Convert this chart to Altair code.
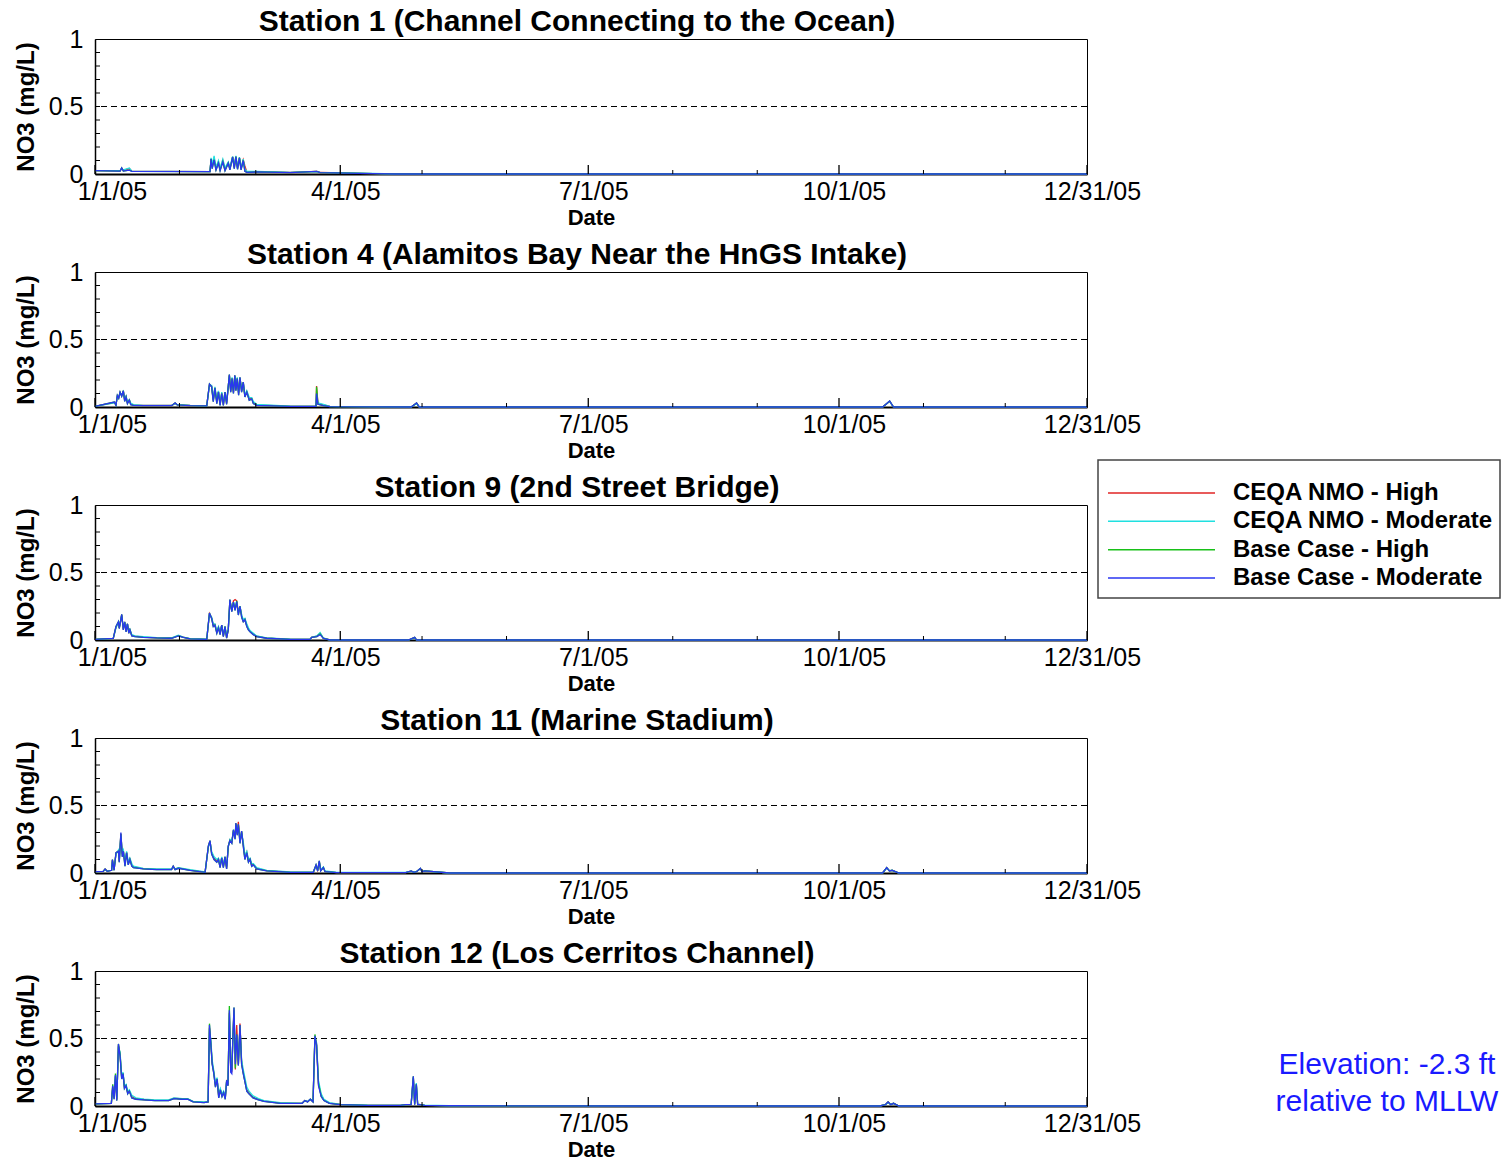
import altair as alt
import pandas as pd

FONT = "Liberation Sans"

SERIES = ["CEQA NMO - High", "CEQA NMO - Moderate", "Base Case - High", "Base Case - Moderate"]
COLORS = ["#e02424", "#20e0e0", "#18c018", "#2a36f0"]

TITLES = [
    "Station 1 (Channel Connecting to the Ocean)",
    "Station 4 (Alamitos Bay Near the HnGS Intake)",
    "Station 9 (2nd Street Bridge)",
    "Station 11 (Marine Stadium)",
    "Station 12 (Los Cerritos Channel)",
]

X_MAJOR_TICKS = ["2005-01-01", "2005-04-01", "2005-07-01", "2005-10-01", "2005-12-31"]
X_MINOR_TICKS = ["2005-02-01", "2005-03-01", "2005-05-01", "2005-06-01",
                 "2005-08-01", "2005-09-01", "2005-11-01", "2005-12-01"]
Y_LABEL_TICKS = [0, 0.5, 1]
Y_MINOR_TICKS = [0.1, 0.2, 0.3, 0.4, 0.5, 0.6, 0.7, 0.8, 0.9]
Y_REF = [0.5]
ELEV_LINES = ["Elevation: -2.3 ft", "relative to MLLW"]

# ---------------- Station 1 (days after 1/1/05, NO3 mg/L) ----------------
S1_DAY = [0, 9.2, 9.8, 10.4, 12.6, 13.5, 42.2, 42.6, 43.0, 43.7,
          44.4, 45.3, 45.9, 46.9, 47.7, 48.9, 49.5, 50.5, 51.1, 51.7,
          52.3, 53.0, 53.6, 54.4, 55.0, 55.7, 59.3, 71.6, 81.4, 82.6,
          102, 110, 364]
S1_BM = [0.025, 0.022, 0.045, 0.022, 0.028, 0.02, 0.017, 0.11, 0.04, 0.105,
         0.03, 0.08, 0.025, 0.09, 0.025, 0.08, 0.03, 0.125, 0.04, 0.128,
         0.035, 0.12, 0.03, 0.10, 0.02, 0.012, 0.015, 0.01, 0.02, 0.01,
         0.003, 0.0, 0.0]
S1_BH = [0.025, 0.022, 0.045, 0.022, 0.028, 0.02, 0.017, 0.11, 0.04, 0.105,
         0.03, 0.08, 0.025, 0.09, 0.025, 0.08, 0.03, 0.125, 0.04, 0.128,
         0.035, 0.12, 0.03, 0.10, 0.02, 0.012, 0.015, 0.01, 0.02, 0.01,
         0.003, 0.0, 0.0]
S1_CM = [0.025, 0.025, 0.04, 0.03, 0.045, 0.022, 0.018, 0.12, 0.07, 0.135,
         0.05, 0.10, 0.045, 0.11, 0.045, 0.09, 0.05, 0.13, 0.06, 0.135,
         0.05, 0.125, 0.045, 0.11, 0.035, 0.02, 0.02, 0.012, 0.018, 0.012,
         0.004, 0.0, 0.0]
S1_CH = [0.025, 0.024, 0.042, 0.026, 0.04, 0.021, 0.018, 0.115, 0.06, 0.12,
         0.04, 0.09, 0.035, 0.10, 0.035, 0.085, 0.04, 0.128, 0.05, 0.13,
         0.045, 0.12, 0.04, 0.105, 0.06, 0.016, 0.018, 0.011, 0.019, 0.011,
         0.003, 0.0, 0.0]

# ---------------- Station 4 ----------------
S4_DAY = [0, 7.1, 7.7, 8.2, 8.7, 9.2, 9.8, 10.4, 10.9, 11.4,
          11.9, 12.6, 13.1, 14.1, 17.7, 28.1, 29.4, 30.2, 34.9, 41.0,
          42.0, 42.8, 43.4, 44.0, 44.7, 45.3, 45.9, 46.5, 47.1, 47.7,
          48.3, 49.3, 49.8, 50.3, 50.8, 51.3, 51.7, 52.2, 52.7, 53.2,
          53.8, 54.4, 55.0, 55.7, 56.6, 57.5, 58.1, 59.3, 71.6, 81.1,
          81.3, 81.8, 83.8, 86.2, 116, 118, 119, 289, 291.6, 293,
          364]
S4_BM = [0.005, 0.037, 0.012, 0.085, 0.065, 0.11, 0.08, 0.12, 0.042, 0.074,
         0.025, 0.05, 0.017, 0.012, 0.01, 0.01, 0.03, 0.015, 0.01, 0.008,
         0.17, 0.15, 0.04, 0.14, 0.025, 0.11, 0.012, 0.10, 0.012, 0.11,
         0.02, 0.24, 0.11, 0.21, 0.10, 0.235, 0.12, 0.21, 0.087, 0.22,
         0.11, 0.185, 0.074, 0.11, 0.05, 0.06, 0.025, 0.012, 0.005, 0.005,
         0.10, 0.02, 0.01, 0.003, 0.0, 0.03, 0.0, 0.0, 0.045, 0.0,
         0.0]
S4_BH = [0.005, 0.037, 0.012, 0.085, 0.065, 0.11, 0.08, 0.12, 0.042, 0.074,
         0.025, 0.05, 0.017, 0.012, 0.01, 0.01, 0.03, 0.015, 0.01, 0.008,
         0.17, 0.15, 0.04, 0.14, 0.025, 0.11, 0.012, 0.10, 0.012, 0.11,
         0.02, 0.24, 0.11, 0.21, 0.10, 0.235, 0.12, 0.21, 0.087, 0.22,
         0.11, 0.185, 0.074, 0.11, 0.05, 0.06, 0.025, 0.012, 0.005, 0.005,
         0.15, 0.02, 0.01, 0.003, 0.0, 0.03, 0.0, 0.0, 0.045, 0.0,
         0.0]
S4_CM = [0.005, 0.03, 0.02, 0.08, 0.075, 0.105, 0.09, 0.115, 0.06, 0.08,
         0.04, 0.055, 0.03, 0.018, 0.012, 0.012, 0.025, 0.018, 0.012, 0.009,
         0.16, 0.16, 0.06, 0.15, 0.05, 0.12, 0.03, 0.11, 0.03, 0.11,
         0.04, 0.23, 0.13, 0.22, 0.12, 0.23, 0.14, 0.22, 0.11, 0.21,
         0.13, 0.18, 0.09, 0.12, 0.07, 0.07, 0.04, 0.02, 0.006, 0.005,
         0.10, 0.03, 0.02, 0.005, 0.0, 0.025, 0.0, 0.0, 0.04, 0.0,
         0.0]
S4_CH = [0.005, 0.033, 0.016, 0.082, 0.07, 0.108, 0.085, 0.118, 0.05, 0.077,
         0.032, 0.052, 0.024, 0.015, 0.011, 0.011, 0.028, 0.016, 0.011, 0.008,
         0.165, 0.155, 0.05, 0.145, 0.04, 0.115, 0.02, 0.105, 0.02, 0.11,
         0.03, 0.235, 0.12, 0.215, 0.11, 0.232, 0.13, 0.215, 0.10, 0.215,
         0.12, 0.183, 0.08, 0.115, 0.06, 0.065, 0.032, 0.016, 0.005, 0.005,
         0.155, 0.025, 0.015, 0.004, 0.0, 0.028, 0.0, 0.0, 0.042, 0.0,
         0.0]

# ---------------- Station 9 ----------------
S9_DAY = [0, 6.7, 7.7, 8.6, 8.9, 9.8, 10.4, 10.9, 11.4, 11.9,
          12.4, 12.8, 13.5, 14.7, 17.7, 22.6, 28.1, 30.6, 32.4, 34.9,
          41.0, 42.0, 42.8, 43.4, 44.0, 44.7, 45.3, 45.9, 46.5, 47.1,
          47.7, 48.3, 48.9, 49.5, 50.2, 50.8, 51.4, 52.0, 52.6, 53.2,
          53.8, 54.4, 55.0, 55.7, 56.3, 56.9, 58.1, 59.3, 63.0, 71.6,
          78.9, 79.5, 81.4, 82.6, 83.8, 86.2, 115, 117.3, 118, 364]
S9_BM = [0.005, 0.012, 0.10, 0.135, 0.085, 0.19, 0.075, 0.135, 0.06, 0.12,
         0.05, 0.075, 0.03, 0.025, 0.02, 0.015, 0.013, 0.03, 0.02, 0.008,
         0.005, 0.20, 0.16, 0.10, 0.11, 0.05, 0.09, 0.04, 0.11, 0.025,
         0.10, 0.013, 0.075, 0.30, 0.21, 0.28, 0.22, 0.285, 0.185, 0.25,
         0.17, 0.135, 0.15, 0.10, 0.075, 0.06, 0.04, 0.025, 0.013, 0.005,
         0.005, 0.02, 0.025, 0.04, 0.012, 0.0, 0.0, 0.02, 0.0, 0.0]
S9_BH = [0.005, 0.012, 0.10, 0.135, 0.085, 0.19, 0.075, 0.135, 0.06, 0.12,
         0.05, 0.075, 0.03, 0.025, 0.02, 0.015, 0.013, 0.03, 0.02, 0.008,
         0.005, 0.20, 0.16, 0.10, 0.11, 0.05, 0.09, 0.04, 0.11, 0.025,
         0.10, 0.013, 0.075, 0.30, 0.21, 0.28, 0.22, 0.29, 0.185, 0.25,
         0.17, 0.135, 0.15, 0.10, 0.075, 0.06, 0.04, 0.025, 0.013, 0.005,
         0.005, 0.02, 0.025, 0.045, 0.012, 0.0, 0.0, 0.02, 0.0, 0.0]
S9_CM = [0.005, 0.012, 0.09, 0.13, 0.10, 0.18, 0.09, 0.13, 0.08, 0.12,
         0.065, 0.08, 0.04, 0.03, 0.025, 0.018, 0.015, 0.035, 0.022, 0.01,
         0.006, 0.19, 0.17, 0.12, 0.12, 0.07, 0.10, 0.06, 0.11, 0.04,
         0.10, 0.03, 0.08, 0.29, 0.22, 0.28, 0.24, 0.28, 0.20, 0.25,
         0.19, 0.15, 0.16, 0.12, 0.09, 0.07, 0.05, 0.03, 0.015, 0.006,
         0.005, 0.02, 0.03, 0.055, 0.015, 0.0, 0.0, 0.015, 0.0, 0.0]
S9_CH = [0.005, 0.012, 0.095, 0.13, 0.09, 0.185, 0.08, 0.13, 0.07, 0.12,
         0.06, 0.078, 0.035, 0.028, 0.022, 0.016, 0.014, 0.032, 0.021, 0.009,
         0.005, 0.195, 0.165, 0.11, 0.115, 0.06, 0.095, 0.05, 0.11, 0.03,
         0.10, 0.02, 0.078, 0.295, 0.215, 0.29, 0.30, 0.29, 0.21, 0.25,
         0.18, 0.14, 0.155, 0.11, 0.08, 0.065, 0.045, 0.028, 0.014, 0.005,
         0.005, 0.02, 0.028, 0.05, 0.013, 0.0, 0.0, 0.018, 0.0, 0.0]

# ---------------- Station 11 ----------------
S11_DAY = [0, 3, 3.7, 4.5, 6.1, 6.4, 7.0, 7.7, 8.6, 8.9,
           9.5, 10.0, 10.4, 11.0, 11.6, 12.2, 12.8, 13.5, 14.1, 17.7,
           22.6, 28.1, 28.7, 29.4, 30.6, 34.9, 40.4, 41.6, 42.2, 42.8,
           43.7, 44.7, 45.3, 45.9, 46.5, 47.1, 47.7, 48.3, 48.9, 49.5,
           50.2, 50.8, 51.4, 51.7, 52.2, 52.6, 53.2, 53.8, 54.4, 55.0,
           55.7, 56.3, 56.9, 57.5, 58.1, 59.3, 63.0, 71.6, 80.1, 81.1,
           81.7, 82.3, 82.8, 83.8, 84.4, 88.7, 114, 116, 117, 118,
           119.4, 120, 121, 130, 289, 290.5, 291.5, 292.5, 295, 364]
S11_BM = [0.01, 0.012, 0.03, 0.012, 0.02, 0.10, 0.02, 0.15, 0.16, 0.08,
          0.30, 0.12, 0.16, 0.05, 0.15, 0.06, 0.10, 0.05, 0.04, 0.03,
          0.025, 0.025, 0.05, 0.025, 0.035, 0.02, 0.005, 0.20, 0.24, 0.14,
          0.10, 0.08, 0.10, 0.04, 0.11, 0.04, 0.12, 0.03, 0.20, 0.24,
          0.22, 0.32, 0.25, 0.37, 0.28, 0.36, 0.22, 0.31, 0.20, 0.10,
          0.15, 0.08, 0.10, 0.05, 0.06, 0.03, 0.015, 0.005, 0.005, 0.06,
          0.015, 0.09, 0.015, 0.04, 0.01, 0.003, 0.003, 0.015, 0.005, 0.01,
          0.035, 0.01, 0.015, 0.0, 0.0, 0.04, 0.015, 0.02, 0.0, 0.0]
S11_BH = [0.01, 0.012, 0.03, 0.012, 0.02, 0.10, 0.02, 0.15, 0.16, 0.08,
          0.29, 0.12, 0.16, 0.05, 0.15, 0.06, 0.10, 0.05, 0.04, 0.03,
          0.025, 0.025, 0.05, 0.025, 0.035, 0.02, 0.005, 0.20, 0.24, 0.14,
          0.10, 0.08, 0.10, 0.04, 0.11, 0.04, 0.12, 0.03, 0.20, 0.24,
          0.22, 0.32, 0.25, 0.37, 0.28, 0.36, 0.22, 0.31, 0.20, 0.10,
          0.15, 0.08, 0.10, 0.05, 0.06, 0.03, 0.015, 0.005, 0.005, 0.06,
          0.015, 0.09, 0.015, 0.04, 0.01, 0.003, 0.003, 0.015, 0.005, 0.01,
          0.035, 0.01, 0.015, 0.0, 0.0, 0.04, 0.015, 0.02, 0.0, 0.0]
S11_CM = [0.01, 0.012, 0.025, 0.015, 0.02, 0.09, 0.03, 0.14, 0.17, 0.10,
          0.28, 0.15, 0.17, 0.08, 0.16, 0.08, 0.11, 0.07, 0.05, 0.035,
          0.03, 0.03, 0.045, 0.03, 0.04, 0.025, 0.008, 0.19, 0.23, 0.16,
          0.12, 0.10, 0.11, 0.06, 0.12, 0.06, 0.12, 0.05, 0.19, 0.25,
          0.24, 0.31, 0.28, 0.36, 0.30, 0.35, 0.25, 0.30, 0.23, 0.13,
          0.16, 0.10, 0.11, 0.07, 0.07, 0.04, 0.02, 0.008, 0.006, 0.05,
          0.025, 0.08, 0.025, 0.045, 0.015, 0.004, 0.004, 0.012, 0.008, 0.012,
          0.03, 0.012, 0.015, 0.0, 0.0, 0.035, 0.018, 0.02, 0.0, 0.0]
S11_CH = [0.01, 0.012, 0.028, 0.014, 0.02, 0.095, 0.025, 0.145, 0.165, 0.09,
          0.29, 0.14, 0.165, 0.07, 0.155, 0.07, 0.105, 0.06, 0.045, 0.032,
          0.028, 0.028, 0.048, 0.028, 0.038, 0.022, 0.006, 0.195, 0.235, 0.15,
          0.11, 0.09, 0.105, 0.05, 0.115, 0.05, 0.12, 0.04, 0.195, 0.245,
          0.23, 0.315, 0.265, 0.365, 0.29, 0.38, 0.235, 0.305, 0.215, 0.115,
          0.155, 0.09, 0.105, 0.06, 0.065, 0.035, 0.018, 0.006, 0.005, 0.055,
          0.02, 0.085, 0.02, 0.042, 0.012, 0.003, 0.003, 0.013, 0.006, 0.011,
          0.032, 0.011, 0.015, 0.0, 0.0, 0.038, 0.016, 0.02, 0.0, 0.0]

# ---------------- Station 12 ----------------
S12_DAY = [0, 6, 6.5, 7, 7.5, 8, 8.6, 9.2, 9.8, 10.3,
           10.8, 11.4, 12, 12.6, 13.5, 15, 18, 22, 27, 29,
           32, 34, 36, 40, 41.5, 42, 42.5, 43, 43.6, 44.2,
           44.8, 45.4, 46, 46.6, 47.2, 47.8, 48.3, 48.8, 49.3, 49.8,
           50.2, 50.5, 51, 51.5, 52, 52.6, 53.2, 53.8, 54.4, 55,
           55.7, 56.5, 58, 60, 62, 68, 76, 77, 78, 79,
           80, 80.7, 81.3, 82, 83, 84, 86, 90, 100, 112,
           114, 116, 116.8, 117.3, 117.9, 118.4, 119, 121, 130, 200,
           288, 290, 291, 292, 293, 295, 364]
S12_BM = [0.015, 0.02, 0.15, 0.05, 0.23, 0.04, 0.46, 0.37, 0.20, 0.24,
          0.13, 0.15, 0.09, 0.11, 0.06, 0.05, 0.045, 0.04, 0.04, 0.055,
          0.05, 0.05, 0.03, 0.025, 0.03, 0.60, 0.46, 0.31, 0.24, 0.14,
          0.20, 0.06, 0.12, 0.07, 0.10, 0.05, 0.19, 0.15, 0.71, 0.25,
          0.24, 0.45, 0.73, 0.31, 0.53, 0.30, 0.60, 0.31, 0.24, 0.18,
          0.11, 0.09, 0.06, 0.045, 0.035, 0.02, 0.02, 0.04, 0.03, 0.05,
          0.03, 0.52, 0.45, 0.15, 0.07, 0.04, 0.02, 0.01, 0.005, 0.005,
          0.01, 0.01, 0.22, 0.01, 0.16, 0.01, 0.01, 0.005, 0.002, 0.0,
          0.0, 0.01, 0.03, 0.01, 0.02, 0.0, 0.0]
S12_BH = [0.015, 0.02, 0.16, 0.05, 0.24, 0.04, 0.46, 0.38, 0.20, 0.24,
          0.13, 0.15, 0.09, 0.11, 0.06, 0.05, 0.045, 0.04, 0.04, 0.055,
          0.05, 0.05, 0.03, 0.025, 0.03, 0.61, 0.46, 0.31, 0.24, 0.14,
          0.20, 0.06, 0.12, 0.07, 0.10, 0.05, 0.19, 0.15, 0.74, 0.26,
          0.27, 0.45, 0.73, 0.28, 0.53, 0.30, 0.60, 0.31, 0.24, 0.18,
          0.11, 0.09, 0.06, 0.045, 0.035, 0.02, 0.02, 0.04, 0.03, 0.05,
          0.03, 0.53, 0.45, 0.17, 0.07, 0.04, 0.02, 0.01, 0.005, 0.005,
          0.01, 0.01, 0.22, 0.01, 0.16, 0.01, 0.01, 0.005, 0.002, 0.0,
          0.0, 0.01, 0.03, 0.01, 0.02, 0.0, 0.0]
S12_CM = [0.015, 0.02, 0.13, 0.07, 0.22, 0.06, 0.44, 0.40, 0.22, 0.25,
          0.15, 0.16, 0.11, 0.12, 0.08, 0.06, 0.05, 0.045, 0.045, 0.06,
          0.055, 0.055, 0.035, 0.03, 0.03, 0.57, 0.49, 0.34, 0.26, 0.17,
          0.21, 0.09, 0.13, 0.09, 0.11, 0.07, 0.18, 0.17, 0.68, 0.30,
          0.26, 0.43, 0.70, 0.35, 0.52, 0.33, 0.58, 0.34, 0.27, 0.21,
          0.14, 0.11, 0.075, 0.055, 0.04, 0.025, 0.02, 0.04, 0.035, 0.05,
          0.035, 0.50, 0.47, 0.19, 0.09, 0.05, 0.025, 0.012, 0.006, 0.005,
          0.01, 0.012, 0.21, 0.02, 0.17, 0.015, 0.012, 0.006, 0.002, 0.0,
          0.0, 0.01, 0.025, 0.012, 0.02, 0.0, 0.0]
S12_CH = [0.015, 0.02, 0.14, 0.06, 0.22, 0.05, 0.45, 0.38, 0.21, 0.24,
          0.14, 0.15, 0.10, 0.11, 0.07, 0.055, 0.048, 0.042, 0.042, 0.058,
          0.052, 0.052, 0.032, 0.027, 0.03, 0.58, 0.47, 0.32, 0.25, 0.15,
          0.20, 0.07, 0.12, 0.08, 0.10, 0.06, 0.18, 0.16, 0.69, 0.27,
          0.25, 0.44, 0.71, 0.27, 0.60, 0.31, 0.61, 0.32, 0.25, 0.19,
          0.12, 0.10, 0.065, 0.05, 0.037, 0.022, 0.02, 0.04, 0.032, 0.05,
          0.032, 0.51, 0.46, 0.16, 0.08, 0.045, 0.022, 0.011, 0.005, 0.005,
          0.01, 0.011, 0.21, 0.015, 0.16, 0.012, 0.011, 0.005, 0.002, 0.0,
          0.0, 0.01, 0.03, 0.012, 0.02, 0.0, 0.0]

STATION_DATA = [
    (S1_DAY, [S1_CH, S1_CM, S1_BH, S1_BM]),
    (S4_DAY, [S4_CH, S4_CM, S4_BH, S4_BM]),
    (S9_DAY, [S9_CH, S9_CM, S9_BH, S9_BM]),
    (S11_DAY, [S11_CH, S11_CM, S11_BH, S11_BM]),
    (S12_DAY, [S12_CH, S12_CM, S12_BH, S12_BM]),
]

W, H = 992, 135
BASE = pd.Timestamp("2005-01-01")


def iso(day):
    return (BASE + pd.Timedelta(days=day)).strftime("%Y-%m-%dT%H:%M:%S")


def dt(s):
    y, m, d = (int(p) for p in s.split("-"))
    return alt.DateTime(year=y, month=m, date=d)


def x_enc():
    return alt.X(
        "date:T",
        scale=alt.Scale(domain=[dt(X_MAJOR_TICKS[0]), dt(X_MAJOR_TICKS[-1])]),
        axis=alt.Axis(values=[dt(s) for s in X_MAJOR_TICKS], format="%-m/%-d/%y",
                      title="Date", titleFontSize=22, labelPadding=5, titlePadding=3,
                      domainWidth=2,
                      labelOffset={"condition": {"test": "datum.index == 0", "value": 17},
                                   "value": 5},
                      labelFlush=False, ticks=False, labelOverlap=False),
    )


def y_enc():
    return alt.Y(
        "value:Q",
        scale=alt.Scale(domain=[0, 1]),
        axis=alt.Axis(values=Y_LABEL_TICKS, format="~g", title="NO3 (mg/L)",
                      titleFontSize=24, labelPadding=12, titlePadding=10,
                      domainWidth=1.5, ticks=False),
    )


color_scale = alt.Scale(domain=SERIES, range=COLORS)


def panel(i):
    days, vals = STATION_DATA[i]
    layers = []
    for s, v in zip(SERIES, vals):
        assert len(v) == len(days), (TITLES[i], s, len(v), len(days))
        df = pd.DataFrame({"date": [iso(d) for d in days], "value": v, "series": s})
        layers.append(
            alt.Chart(df).mark_line(strokeWidth=1.3).encode(
                x=x_enc(), y=y_enc(),
                color=alt.Color("series:N", scale=color_scale, legend=None),
            )
        )
    ref = alt.Chart(pd.DataFrame({"value": Y_REF})).mark_rule(
        color="black", strokeDash=[6, 4], strokeWidth=1).encode(y=y_enc())
    ytk = alt.Chart(pd.DataFrame({"value": Y_MINOR_TICKS})).mark_rule(
        color="black", strokeWidth=1).encode(y=y_enc(), x=alt.value(0), x2=alt.value(5))
    xminor = alt.Chart(pd.DataFrame({"date": [s + "T00:00:00" for s in X_MINOR_TICKS]})).mark_rule(
        color="black", strokeWidth=1).encode(x=x_enc(), y=alt.value(H), y2=alt.value(H - 4))
    xmajor = alt.Chart(pd.DataFrame({"date": [s + "T00:00:00" for s in X_MAJOR_TICKS]})).mark_rule(
        color="black", strokeWidth=1.3).encode(x=x_enc(), y=alt.value(H), y2=alt.value(H - 9))
    group = [ref] + layers + [ytk, xminor, xmajor]
    if i == 4:
        elev = alt.Chart(pd.DataFrame({"k": [0]})).mark_text(
            text=ELEV_LINES, font=FONT, fontSize=30, color="#1a1aff", align="center",
            baseline="top", lineHeight=37).encode(x=alt.value(1292), y=alt.value(79))
        group.append(elev)
    data_group = alt.layer(*group)
    title = alt.TitleParams(TITLES[i], font=FONT, fontSize=30, fontWeight="bold",
                            anchor="middle", frame="group", dx=-14, offset=-10, color="black")
    if i == 1:
        # legend box sits to the right of the Station 9 panel, drawn from this panel
        leg_df = pd.DataFrame({"series": SERIES})
        ysc = alt.Y("series:N", sort=SERIES,
                    scale=alt.Scale(type="point", domain=SERIES, range=[221, 306], padding=0),
                    axis=None)
        box = alt.Chart(pd.DataFrame({"k": [0]})).mark_rect(
            fill="white", stroke="#444444", strokeWidth=1.5).encode(
            x=alt.value(1003), x2=alt.value(1405), y=alt.value(188), y2=alt.value(326))
        lines = alt.Chart(leg_df).mark_rule(strokeWidth=1.5).encode(
            y=ysc, x=alt.value(1013), x2=alt.value(1120),
            color=alt.Color("series:N", scale=color_scale, legend=None))
        texts = alt.Chart(leg_df).mark_text(
            font=FONT, fontSize=24, fontWeight="bold", align="left", baseline="middle",
            color="black").encode(y=ysc, x=alt.value(1138), text="series:N")
        leg_group = alt.layer(box, lines, texts)
        ch = alt.layer(data_group, leg_group).resolve_scale(y="independent")
    else:
        ch = data_group
    return ch.properties(width=W, height=H, title=title)


chart = alt.vconcat(*[panel(i) for i in range(5)], spacing=98, bounds="flush").properties(
    padding={"left": 5, "top": -2, "right": 0, "bottom": 0}, background="white"
).configure_view(stroke="black", strokeWidth=1).configure_axis(
    labelFont=FONT, labelFontSize=25, labelColor="black",
    titleFont=FONT, titleFontWeight="bold", titleColor="black",
    domainColor="black", grid=False,
)

chart.save("out.html", embed_options={"renderer": "svg", "actions": False})
